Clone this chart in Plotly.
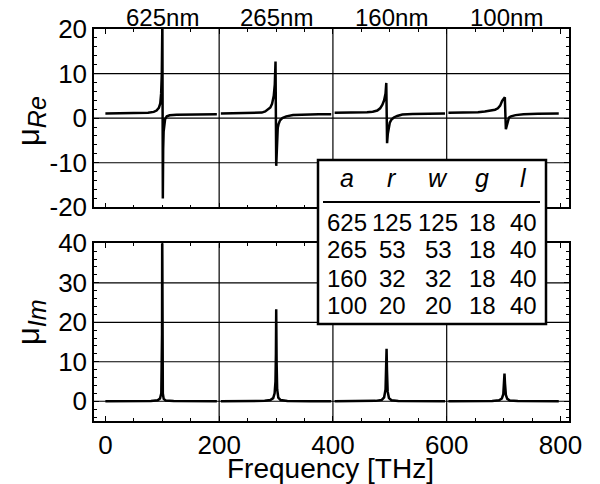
import plotly.graph_objects as go

# ---------------- data ----------------
seg_labels = ["625nm", "265nm", "160nm", "100nm"]
label_freq = [101, 300, 503, 706]

# real part, one series per structure
re_f_625 = [0, 20, 40, 60, 75, 85, 90, 94, 96.5, 98, 99.2, 100.2, 101.0, 101.6, 102.4, 103.5, 105, 108, 113, 125, 145, 170, 196]
re_v_625 = [1.05, 1.06, 1.08, 1.12, 1.2, 1.4, 1.7, 2.3, 3.3, 5.5, 10, 22, -18, -7, -3, -1.2, -0.2, 0.4, 0.65, 0.78, 0.85, 0.88, 0.9]

re_f_265 = [203, 220, 240, 260, 275, 281, 286, 290, 293, 296, 297.8, 299.1, 300.3, 301.2, 302, 303, 304.5, 307, 311, 318, 330, 350, 375, 397]
re_v_265 = [1.05, 1.06, 1.08, 1.12, 1.25, 1.5, 1.9, 2.4, 3.2, 5.0, 7.5, 12.7, -10.7, -6, -3.5, -2.2, -1.3, -0.5, 0.0, 0.4, 0.7, 0.83, 0.88, 0.9]

re_f_160 = [403, 420, 440, 460, 470, 478, 483, 487, 490, 492.5, 493.8, 495.2, 496.5, 498, 500, 503, 507, 513, 522, 540, 570, 597]
re_v_160 = [1.22, 1.23, 1.25, 1.32, 1.45, 1.7, 2.2, 3.0, 4.0, 5.5, 7.9, -5.6, -3.5, -2.0, -1.0, -0.3, 0.15, 0.5, 0.8, 0.95, 1.02, 1.05]

re_f_100 = [603, 620, 640, 655, 667, 678, 685, 690, 694, 697.5, 700, 702.2, 704, 705.5, 707.5, 709.5, 713, 721, 735, 760, 797]
re_v_100 = [1.22, 1.23, 1.26, 1.35, 1.5, 1.7, 1.9, 2.2, 2.8, 3.9, 4.3, 4.66, -2.5, -1.6, -0.5, 0.15, 0.4, 0.68, 0.85, 1.0, 1.05]

# imaginary part
im_f_625 = [0, 50, 80, 92, 96, 98.3, 99.2, 99.6, 99.9, 100.3, 101, 102.5, 106, 120, 160, 196]
im_v_625 = [0, 0.02, 0.08, 0.25, 0.7, 2, 8, 17, 45, 8, 2, 0.6, 0.2, 0.05, 0.02, 0.01]

im_f_265 = [203, 250, 280, 290, 295, 297.5, 299, 299.8, 300.3, 301, 302, 304, 308, 320, 360, 397]
im_v_265 = [0, 0.03, 0.1, 0.3, 0.8, 2, 5, 12, 23.3, 10, 3, 0.9, 0.3, 0.08, 0.02, 0.01]

im_f_160 = [403, 450, 475, 486, 490, 492.5, 493.6, 494.3, 495.0, 496.2, 498.5, 503, 515, 550, 597]
im_v_160 = [0, 0.03, 0.1, 0.35, 1.0, 3.0, 8, 13.3, 8, 2.5, 0.8, 0.25, 0.08, 0.02, 0.01]

im_f_100 = [603, 650, 680, 692, 697, 699.5, 701, 701.6, 702.5, 704, 706.5, 711, 725, 760, 797]
im_v_100 = [0, 0.02, 0.08, 0.25, 0.7, 1.8, 4.5, 7.0, 4.5, 1.6, 0.6, 0.2, 0.06, 0.02, 0.01]

# axis ticks
x_ticks = [0, 200, 400, 600, 800]
x_ticktext = ["0", "200", "400", "600", "800"]
y1_ticks = [-20, -10, 0, 10, 20]
y1_ticktext = ["-20", "-10", "0", "10", "20"]
y2_ticks = [0, 10, 20, 30, 40]
y2_ticktext = ["0", "10", "20", "30", "40"]
x_grid = [200, 400, 600]
y1_grid = [-10, 0, 10]
y2_grid = [0, 10, 20, 30]

# inset table
table_header = ["a", "r", "w", "g", "l"]
table_rows = [
    [625, 125, 125, 18, 40],
    [265, 53, 53, 18, 40],
    [160, 32, 32, 18, 40],
    [100, 20, 20, 18, 40],
]

# ---------------- figure ----------------
FONT = "Liberation Sans, Arial, Helvetica, sans-serif"
W, H = 600, 484
ML, MR, MT, MB = 94, 31, 29, 63
PW, PH = W - ML - MR, H - MT - MB


def px(x):
    return (x - ML) / PW


def py(y):
    return (H - MB - y) / PH


fig = go.Figure()

re_sets = [(re_f_625, re_v_625), (re_f_265, re_v_265), (re_f_160, re_v_160), (re_f_100, re_v_100)]
im_sets = [(im_f_625, im_v_625), (im_f_265, im_v_265), (im_f_160, im_v_160), (im_f_100, im_v_100)]

for (f, v), name in zip(re_sets, seg_labels):
    fig.add_trace(go.Scatter(x=f, y=v, mode="lines", name=name, showlegend=False,
                             line=dict(color="black", width=2.5), xaxis="x", yaxis="y"))
for (f, v), name in zip(im_sets, seg_labels):
    fig.add_trace(go.Scatter(x=f, y=v, mode="lines", name=name, showlegend=False,
                             line=dict(color="black", width=2.5), xaxis="x2", yaxis="y2"))

axis_common = dict(showline=True, linecolor="black", linewidth=1.5, mirror="allticks",
                   ticks="inside", tickcolor="black", ticklen=5, tickwidth=1,
                   showgrid=False, zeroline=False,
                   tickfont=dict(family=FONT, size=26, color="black"))

x_range = [-20, 815]
fig.update_layout(
    width=W, height=H,
    margin=dict(l=ML, r=MR, t=MT, b=MB),
    paper_bgcolor="white", plot_bgcolor="white",
    font=dict(family=FONT, color="black"),
    xaxis=dict(axis_common, range=x_range, tickvals=x_ticks, ticktext=x_ticktext,
               showticklabels=False, anchor="y",
               minor=dict(dtick=50, tick0=0, ticks="inside", ticklen=3, tickcolor="black")),
    yaxis=dict(axis_common, range=[-20, 20], tickvals=y1_ticks, ticktext=y1_ticktext,
               domain=[(H - MB - 207.3) / PH, 1], anchor="x",
               minor=dict(dtick=2, tick0=0, ticks="inside", ticklen=3, tickcolor="black")),
    xaxis2=dict(axis_common, range=x_range, tickvals=x_ticks, ticktext=x_ticktext,
                anchor="y2",
                minor=dict(dtick=50, tick0=0, ticks="inside", ticklen=3, tickcolor="black")),
    yaxis2=dict(axis_common, range=[-5, 40], tickvals=y2_ticks, ticktext=y2_ticktext,
                domain=[0, (H - MB - 243.3) / PH], anchor="x2",
                minor=dict(dtick=2, tick0=0, ticks="inside", ticklen=3, tickcolor="black")),
)

shapes = []
grid_line = dict(color="black", width=1.2)
for xv in x_grid:
    shapes.append(dict(type="line", xref="x", yref="y domain", x0=xv, x1=xv, y0=0, y1=1,
                       line=grid_line, layer="below"))
    shapes.append(dict(type="line", xref="x2", yref="y2 domain", x0=xv, x1=xv, y0=0, y1=1,
                       line=grid_line, layer="below"))
for yv in y1_grid:
    shapes.append(dict(type="line", xref="x domain", yref="y", x0=0, x1=1, y0=yv, y1=yv,
                       line=grid_line, layer="below"))
for yv in y2_grid:
    shapes.append(dict(type="line", xref="x2 domain", yref="y2", x0=0, x1=1, y0=yv, y1=yv,
                       line=grid_line, layer="below"))

# table box and header rule
shapes.append(dict(type="rect", xref="paper", yref="paper",
                   x0=px(318), x1=px(546), y0=py(324), y1=py(160),
                   line=dict(color="black", width=2.5), fillcolor="white", layer="above"))
shapes.append(dict(type="line", xref="paper", yref="paper",
                   x0=px(323), x1=px(540), y0=py(202), y1=py(202),
                   line=dict(color="black", width=2.2), layer="above"))
fig.update_layout(shapes=shapes)

ann = []
# structure labels on top
for lab, fx in zip(seg_labels, label_freq):
    ann.append(dict(text=lab, xref="x", yref="paper", x=fx, y=py(17.5),
                    xanchor="center", yanchor="middle", showarrow=False,
                    font=dict(family=FONT, size=24, color="black")))
# y titles
ann.append(dict(text='μ<sub><span style="font-size:25px"><i>Re</i></span></sub>',
                xref="paper", yref="paper",
                x=px(31), y=py(121), textangle=-90, showarrow=False,
                xanchor="center", yanchor="middle",
                font=dict(family=FONT, size=31, color="black")))
ann.append(dict(text='μ<sub><span style="font-size:25px"><i>Im</i></span></sub>',
                xref="paper", yref="paper",
                x=px(31), y=py(322), textangle=-90, showarrow=False,
                xanchor="center", yanchor="middle",
                font=dict(family=FONT, size=31, color="black")))
# x title
ann.append(dict(text="Frequency [THz]", xref="paper", yref="paper",
                x=px(330), y=py(469), showarrow=False,
                xanchor="center", yanchor="middle",
                font=dict(family=FONT, size=28, color="black")))

# table text
col_x = [347, 392, 438, 482, 523]
row_y = [222, 250, 278, 305]
for cx, h in zip(col_x, table_header):
    ann.append(dict(text="<i>" + h + "</i>", xref="paper", yref="paper",
                    x=px(cx), y=py(178), showarrow=False, xanchor="center", yanchor="middle",
                    font=dict(family=FONT, size=25, color="black")))
for ry, row in zip(row_y, table_rows):
    for cx, val in zip(col_x, row):
        ann.append(dict(text=str(val), xref="paper", yref="paper",
                        x=px(cx), y=py(ry), showarrow=False, xanchor="center", yanchor="middle",
                        font=dict(family=FONT, size=24, color="black")))
fig.update_layout(annotations=ann)

fig.write_html("out.html")
